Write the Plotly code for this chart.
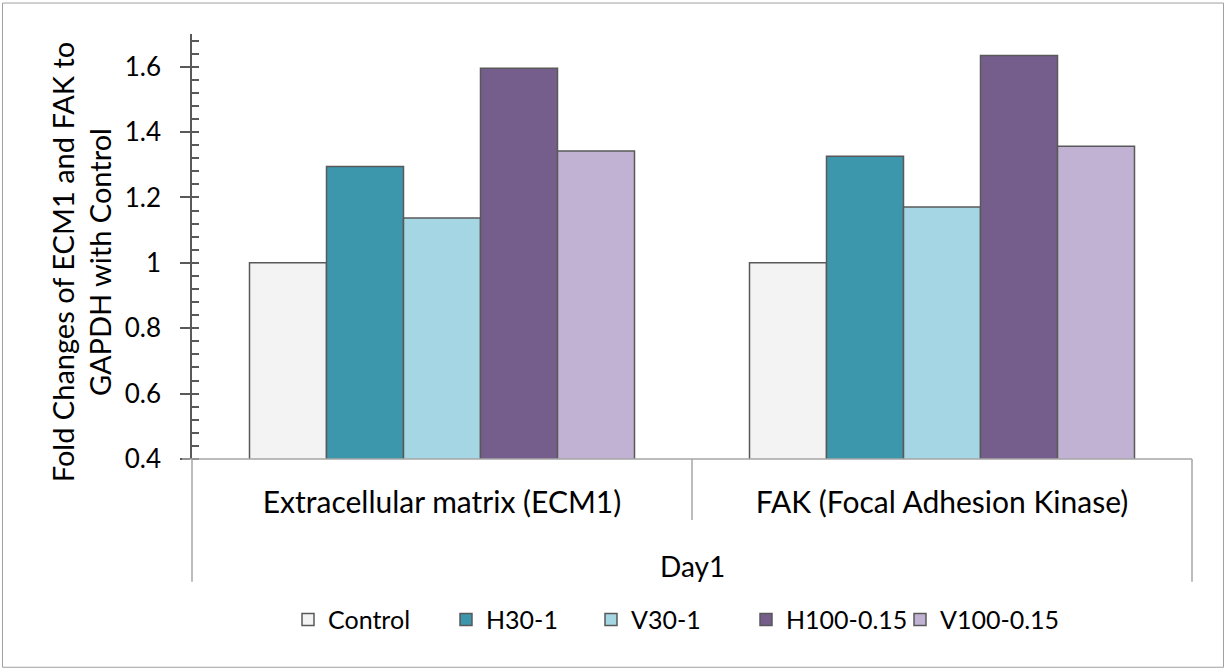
import plotly.graph_objects as go

# Gene groups on the category axis and the outer grouping label
genes = ["Extracellular matrix (ECM1)", "FAK (Focal Adhesion Kinase)"]
day_label = "Day1"

# Fold change per treatment (ECM1, FAK)
control = [1.0, 1.0]
h30_1 = [1.295, 1.326]
v30_1 = [1.137, 1.171]
h100_015 = [1.595, 1.634]
v100_015 = [1.342, 1.357]

series_names = ["Control", "H30-1", "V30-1", "H100-0.15", "V100-0.15"]
series_values = [control, h30_1, v30_1, h100_015, v100_015]
series_colors = ["#F3F3F3", "#3C96AC", "#A5D6E3", "#755E8C", "#C1B1D3"]
legend_widths = [113, 100, 110, 109, 140]

y_ticks = [0.4, 0.6, 0.8, 1.0, 1.2, 1.4, 1.6]
y_tick_text = ["0.4", "0.6", "0.8", "1", "1.2", "1.4", "1.6"]

W, H = 1226, 670
L, R, T, B = 192, 1192, 33.5, 459
FONT = "Lato, 'Open Sans', sans-serif"


def px_x(px):
    return (px - L) / (R - L)


def px_y(py):
    return (B - py) / (B - T)


fig = go.Figure()
for name, vals, col, lw in zip(series_names, series_values, series_colors, legend_widths):
    fig.add_trace(go.Bar(
        x=genes, y=vals, name=name,
        marker=dict(color=col, line=dict(color="#595959", width=1.5)),
        legendwidth=lw,
    ))

axis_grey = "#A6A6A6"
shapes = [
    # outer chart border
    dict(type="rect", xref="paper", yref="paper",
         x0=px_x(2.5), x1=px_x(1223.5), y0=px_y(667.5), y1=px_y(2.5),
         line=dict(color="#A0A0A0", width=1), layer="below"),
    # category axis baseline and group dividers
    dict(type="line", xref="paper", yref="paper", x0=px_x(182), x1=1, y0=0, y1=0,
         line=dict(color=axis_grey, width=1.5)),
    dict(type="line", xref="paper", yref="paper", x0=0, x1=0, y0=0, y1=px_y(582),
         line=dict(color=axis_grey, width=1.5)),
    dict(type="line", xref="paper", yref="paper", x0=1, x1=1, y0=0, y1=px_y(582),
         line=dict(color=axis_grey, width=1.5)),
    dict(type="line", xref="paper", yref="paper", x0=0.5, x1=0.5, y0=0, y1=px_y(520),
         line=dict(color=axis_grey, width=1.5)),
]

fig.update_layout(
    width=W, height=H,
    margin=dict(l=L, r=W - R, t=T, b=H - B, autoexpand=False),
    paper_bgcolor="white", plot_bgcolor="white",
    font=dict(family=FONT, size=24, color="black"),
    barmode="group", bargap=0.23, bargroupgap=0,
    showlegend=True,
    legend=dict(orientation="h", x=px_x(288), xanchor="left",
                y=px_y(620), yanchor="middle",
                font=dict(family=FONT, size=25, color="black"),
                traceorder="normal", itemclick=False, bgcolor="rgba(0,0,0,0)"),
    shapes=shapes,
    annotations=[
        dict(text=day_label, xref="paper", yref="paper", x=0.5, y=px_y(566),
             xanchor="center", yanchor="middle", showarrow=False,
             font=dict(family=FONT, size=28, color="black")),
        dict(text="Fold Changes of ECM1 and FAK to<br>GAPDH with Control",
             xref="paper", yref="paper", x=px_x(81), y=px_y(262),
             xanchor="center", yanchor="middle", showarrow=False, textangle=-90,
             font=dict(family=FONT, size=29, color="black")),
    ],
)

fig.update_xaxes(
    showline=False, ticks="", showgrid=False, zeroline=False,
    tickfont=dict(family=FONT, size=30, color="black"),
    ticklabelstandoff=23,
)
fig.update_yaxes(
    range=[0.4, 1.7], showgrid=False, zeroline=False,
    showline=True, linecolor="#595959", linewidth=1.5,
    tickmode="array", tickvals=y_ticks, ticktext=y_tick_text,
    ticks="outside", ticklen=10, tickwidth=1.5, tickcolor="#595959",
    minor=dict(ticks="inside", ticklen=7, tickwidth=1.5, tickcolor="#595959", dtick=0.04, tick0=0.4),
    tickfont=dict(family=FONT, size=26, color="black"),
    ticklabelstandoff=14,
)

fig.write_html("out.html")
